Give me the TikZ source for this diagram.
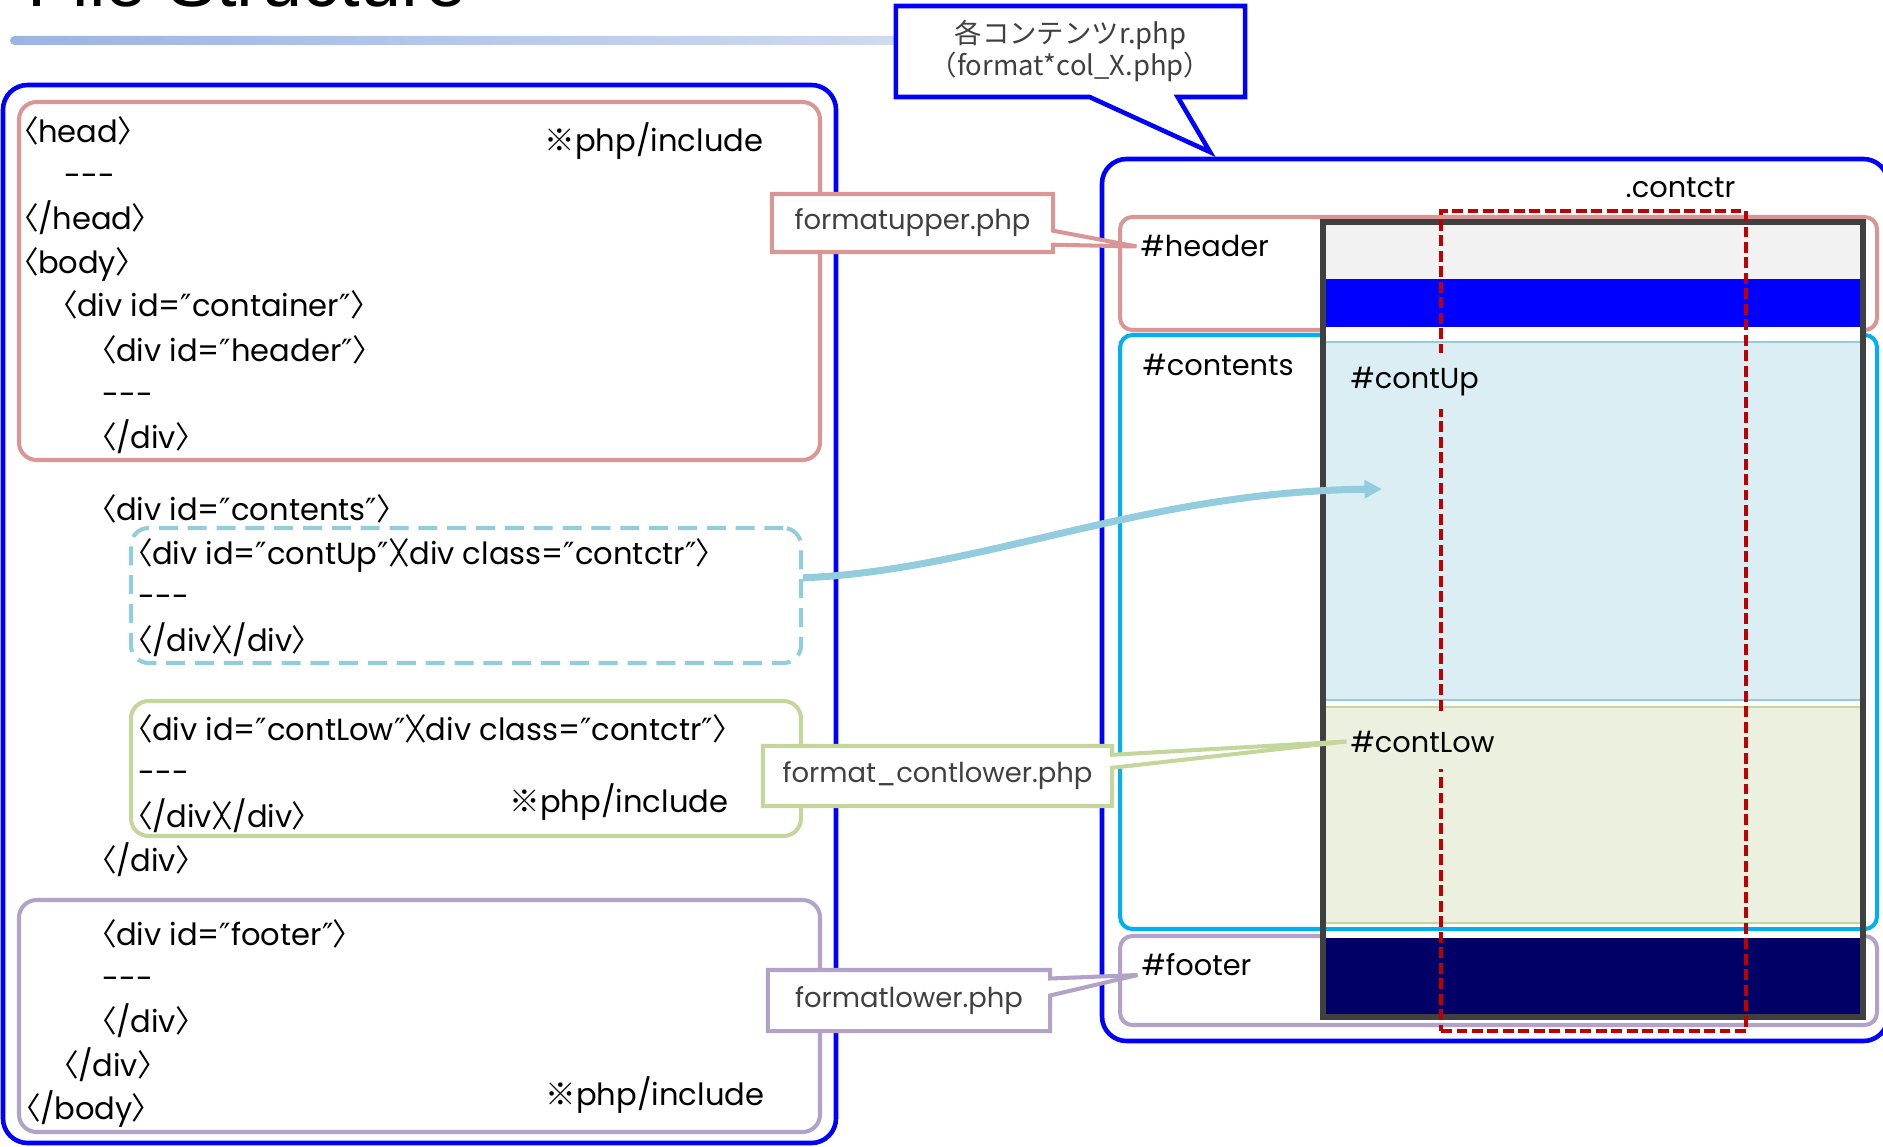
\documentclass[tikz,border=0pt]{standalone}
\usepackage{fontspec}
\setmainfont{Poppins}
\newfontfamily\jp{Noto Sans CJK JP}[RawFeature=+palt]
\newfontfamily\jpwide{Noto Sans CJK JP}
\newfontfamily\dvs{DejaVu Sans}
\newfontfamily\titlefont{Liberation Sans}
\usepackage{tikz}
\usetikzlibrary{arrows.meta,shapes.callouts,fit,positioning,calc}
\definecolor{frameblue}{RGB}{0,0,255}
\definecolor{hdrpink}{RGB}{217,150,148}
\definecolor{lowgreen}{RGB}{195,214,155}
\definecolor{ftrpurple}{RGB}{179,162,199}
\definecolor{upblue}{RGB}{147,205,221}
\definecolor{cntcyan}{RGB}{0,176,240}
\definecolor{upfill}{RGB}{219,238,244}
\definecolor{lowfill}{RGB}{235,241,222}
\definecolor{navyfill}{RGB}{0,0,102}
\definecolor{pagegray}{RGB}{64,64,64}
\definecolor{topgray}{RGB}{242,242,242}
\definecolor{ctrred}{RGB}{192,0,0}
\definecolor{calltext}{RGB}{64,64,64}
\definecolor{barleft}{RGB}{155,180,227}
\definecolor{barright}{RGB}{208,218,240}
\newcommand\tagl{{\jp 〈}}
\newcommand\tagr{{\jp 〉}}
\newcommand\tagx{{\jp 〉\kern-.33em〈}}
\newcommand\qt{{\dvs ″}}
\newcommand\kome{{\jp ※}}
\newcommand\dashes{-\kern0pt-\kern0pt-}
\tikzstyle{codeline}=[anchor=base west, inner sep=0pt, font=\fontsize{8.7}{10}\selectfont]
\tikzstyle{rlabel}=[anchor=base west, inner sep=1pt, font=\fontsize{8.2}{10}\selectfont]
\tikzstyle{bigframe}=[draw=frameblue, line width=1.3pt, rounded corners=7pt, inner sep=0pt]
\tikzstyle{srcbox}=[line width=1.15pt, rounded corners=5pt, inner sep=0pt]
\tikzstyle{areabox}=[line width=1.15pt, rounded corners=3.5pt, inner sep=0pt]
\tikzstyle{filecall}=[rectangle callout, fill=white, line width=1.15pt, inner sep=0pt, text=calltext, font=\fontsize{7.8}{9}\selectfont]
\tikzstyle{uparrow}=[-{Triangle[length=5pt,width=5pt]}, line width=2pt, draw=upblue]

\begin{document}
\begin{tikzpicture}[x=0.01cm, y=-0.01cm]
\useasboundingbox (0,0) rectangle (1883,1146);

    \node[anchor=base west, inner sep=0pt, font=\titlefont\fontsize{21}{25}\selectfont] (title) at (27,7) {File Structure};
    \shade[left color=barleft, right color=barright, rounded corners=1.3pt] (10,36) rectangle (900,45);

    % source side
    \node[bigframe, fit={(3,85) (836,1143)}] (srcFrame) {};
    \node[srcbox, draw=hdrpink, fit={(19,102) (820,460)}] (headBox) {};
    \node[srcbox, draw=upblue, dash pattern=on 5.4pt off 2.8pt, fit={(131,528) (801,663)}] (upBox) {};
    \node[srcbox, draw=lowgreen, fit={(131,701) (801,836)}] (lowBox) {};
    \node[srcbox, draw=ftrpurple, fit={(19,900) (820,1132)}] (footBox) {};

    \node[codeline] (src-1) at (22,143) {\tagl head\tagr};
    \node[codeline] (src-2) at (64,187) {\dashes};
    \node[codeline] (src-3) at (22,230) {\tagl/head\tagr};
    \node[codeline] (src-4) at (22,274) {\tagl body\tagr};
    \node[codeline] (src-5) at (61,317) {\tagl div id=\qt container\qt\tagr};
    \node[codeline] (src-6) at (100,361) {\tagl div id=\qt header\qt\tagr};
    \node[codeline] (src-7) at (102,405) {\dashes};
    \node[codeline] (src-8) at (100,448) {\tagl/div\tagr};
    \node[codeline] (inc-1) at (544,152) {\kome php/include};

    \node[codeline] (src-9) at (100,520) {\tagl div id=\qt contents\qt\tagr};
    \node[codeline] (src-10) at (136,564) {\tagl div id=\qt contUp\qt\tagx div class=\qt contctr\qt\tagr};
    \node[codeline] (src-11) at (138,607) {\dashes};
    \node[codeline] (src-12) at (136,651) {\tagl/div\tagx/div\tagr};
    \node[codeline] (src-13) at (136,740) {\tagl div id=\qt contLow\qt\tagx div class=\qt contctr\qt\tagr};
    \node[codeline] (src-14) at (138,783) {\dashes};
    \node[codeline] (src-15) at (136,827) {\tagl/div\tagx/div\tagr};
    \node[codeline] (inc-2) at (509,812) {\kome php/include};
    \node[codeline] (src-16) at (100,871) {\tagl/div\tagr};

    \node[codeline] (src-17) at (100,945) {\tagl div id=\qt footer\qt\tagr};
    \node[codeline] (src-18) at (102,989) {\dashes};
    \node[codeline] (src-19) at (100,1032) {\tagl/div\tagr};
    \node[codeline] (src-20) at (62,1076) {\tagl/div\tagr};
    \node[codeline] (src-21) at (24,1119) {\tagl/body\tagr};
    \node[codeline] (inc-3) at (545,1105) {\kome php/include};

    % page side
    \node[bigframe, fit={(1102,159) (1888,1041)}] (pageFrame) {};
    \node[areabox, draw=hdrpink, fit={(1120,217) (1877,330)}] (hdrArea) {};
    \node[areabox, draw=cntcyan, fit={(1120,335) (1877,929)}] (cntArea) {};
    \node[areabox, draw=ftrpurple, fit={(1120,936) (1877,1025)}] (ftrArea) {};

    \fill[white] (1323,222) rectangle (1863,1017);
    \fill[topgray] (1323,222) rectangle (1863,279);
    \fill[frameblue] (1323,279) rectangle (1863,327);
    \filldraw[fill=upfill, draw=upblue, line width=0.45pt] (1323,342) rectangle (1863,700);
    \filldraw[fill=lowfill, draw=lowgreen, line width=0.45pt] (1323,707) rectangle (1863,923);
    \draw[cntcyan, line width=1.3pt] (1323,929) -- (1863,929);
    \fill[navyfill] (1323,938) rectangle (1863,1017);
    \node[draw=pagegray, line width=1.6pt, inner sep=0pt, fit={(1323,222) (1863,1017)}] (page) {};

    \node[draw=ctrred, line width=1.05pt, dash pattern=on 3.1pt off 1.3pt, inner sep=0pt, fit={(1441,211) (1746,1031)}] (ctr) {};

    \node[rlabel, inner sep=0pt] (ctrLbl) at (1625,198) {.contctr};
    \node[rlabel] (hdr) at (1136.5,257) {\#header};
    \node[rlabel, inner sep=0pt] (cnt) at (1142,375) {\#contents};
    \node[rlabel, inner xsep=1pt, inner ysep=0pt, minimum height=0.56cm, fill=upfill] (upLbl) at (1346.5,388) {\#contUp};
    \node[rlabel, inner xsep=1pt, inner ysep=0pt, minimum height=0.56cm, fill=lowfill] (lowLbl) at (1346.5,752) {\#contLow};
    \node[rlabel] (ftr) at (1137.5,975) {\#footer};

    % callouts
    \coordinate (tipTop) at (1210,152);
    \node[rectangle callout, draw=frameblue, line width=1.3pt, fill=white, inner sep=0pt,
          minimum width=3.49cm, minimum height=0.91cm, align=center, text=calltext,
          font=\jpwide\fontsize{7.8}{9.1}\selectfont,
          callout absolute pointer={(tipTop)}, callout pointer width=0.88cm] (topCall) at (1070.5,51.5)
          {各コンテンツr.php\\（format*col\_X.php）};
    \node[filecall, draw=hdrpink, minimum width=2.81cm, minimum height=0.58cm,
          callout absolute pointer={(hdr.west)}, callout pointer width=0.14cm] (upperCall) at (912.5,223) {formatupper.php};
    \node[filecall, draw=lowgreen, minimum width=3.49cm, minimum height=0.60cm,
          callout absolute pointer={(lowLbl.west)}, callout pointer width=0.13cm] (lowCall) at (937.5,776) {format\_contlower.php};
    \node[filecall, draw=ftrpurple, minimum width=2.82cm, minimum height=0.61cm,
          callout absolute pointer={(ftr.base west)}, callout pointer width=0.17cm] (footCall) at (909,1000.5) {formatlower.php};

    \coordinate (upTarget) at (1382,489);
    \draw[uparrow] (upBox.3) .. controls (985,570) and (1141,492) .. (upTarget);
\end{tikzpicture}
\end{document}
